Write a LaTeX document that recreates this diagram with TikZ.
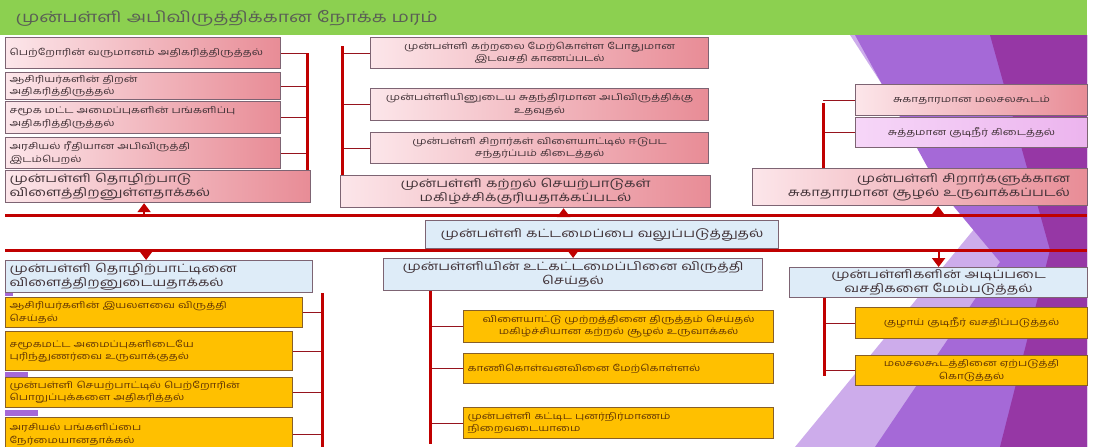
\documentclass[tikz,border=0pt]{standalone}
\usepackage{fontspec}
\newfontfamily\tafont[Script=Tamil,FakeStretch=1.3]{Hind Madurai}
\usetikzlibrary{arrows.meta}
\definecolor{titlegreen}{RGB}{140,208,80}
\definecolor{titleink}{RGB}{90,95,85}
\definecolor{barred}{RGB}{192,0,0}
\definecolor{twigred}{RGB}{150,20,30}
\definecolor{pinkL}{RGB}{252,230,234}
\definecolor{pinkR}{RGB}{232,140,150}
\definecolor{lilacL}{RGB}{246,214,248}
\definecolor{lilacR}{RGB}{236,180,238}
\definecolor{paleblue}{RGB}{222,236,248}
\definecolor{amber}{RGB}{255,192,0}
\definecolor{edgegray}{RGB}{125,100,115}
\definecolor{edgebrown}{RGB}{135,95,40}
\definecolor{inkgray}{RGB}{65,50,55}
\definecolor{inkbrown}{RGB}{100,55,5}
\definecolor{purpA}{RGB}{205,172,235}
\definecolor{purpB}{RGB}{165,105,215}
\definecolor{purpC}{RGB}{150,55,165}
\def\lightfacet{(850,35) -- (1087,35) -- (1087,447) -- (795,447) -- (975,228) -- cycle}
\def\midfacet{(855,35) -- (1087,35) -- (1087,447) -- (875,447) -- (1000,262) -- (940,190) -- cycle}
\def\darkfacet{(990,35) -- (1087,35) -- (1087,447) -- (1000,447) -- (1050,250) -- cycle}
\tikzset{
  card/.style={draw=edgegray, line width=1.2pt, anchor=north west, inner xsep=4pt, inner ysep=0pt,
    font=\tafont\fontsize{9}{12.5}\selectfont, text=inkgray},
  headfont/.style={font=\tafont\fontsize{11.5}{14}\selectfont},
  pinkcard/.style={card, left color=pinkL, right color=pinkR},
  lilaccard/.style={card, left color=lilacL, right color=lilacR},
  bluecard/.style={card, fill=paleblue, headfont},
  ambercard/.style={card, draw=edgebrown, fill=amber, text=inkbrown},
  trunk/.style={draw=barred, line width=3pt},
  twig/.style={draw=twigred, line width=1.2pt},
  tip/.style={draw=barred, line width=2pt, -{Triangle[width=13pt,length=9pt]}, barred}
}
\begin{document}
\begin{tikzpicture}[x=1pt,y=-1pt]
\useasboundingbox (0,0) rectangle (1093,447);

%slide background
\fill[titlegreen] (0,0) rectangle (1087,35);
\fill[purpA] \lightfacet;
\fill[purpB] \midfacet;
\fill[purpC] \darkfacet;
\fill[purpB] (5,292) rectangle (13,296);
\fill[purpB] (5,372) rectangle (28,377);
\fill[purpB] (5,410) rectangle (38,416);

\node[anchor=west, font=\tafont\fontsize{15}{17}\selectfont, text=titleink] (title) at (12,18)
  {முன்பள்ளி அபிவிருத்திக்கான நோக்க மரம்};

%upper branches
\node[pinkcard, text width=267pt, minimum height=31pt, align=left] (lt1) at (5,37)
  {பெற்றோரின் வருமானம் அதிகரித்திருத்தல்};
\node[pinkcard, text width=267pt, minimum height=27pt, align=left] (lt2) at (5,72)
  {ஆசிரியர்களின் திறன்\\அதிகரித்திருத்தல்};
\node[pinkcard, text width=267pt, minimum height=32pt, align=left] (lt3) at (5,101)
  {சமூக மட்ட அமைப்புகளின் பங்களிப்பு\\அதிகரித்திருத்தல்};
\node[pinkcard, text width=267pt, minimum height=31pt, align=left] (lt4) at (5,137)
  {அரசியல் ரீதியான அபிவிருத்தி\\இடம்பெறல்};
\node[pinkcard, headfont, text width=297pt, minimum height=32pt, align=left] (lt5) at (5,170)
  {முன்பள்ளி தொழிற்பாடு\\விளைத்திறனுள்ளதாக்கல்};

\node[pinkcard, text width=330pt, minimum height=31pt, align=center] (mt1) at (370,37)
  {முன்பள்ளி கற்றலை மேற்கொள்ள போதுமான\\இடவசதி காணப்படல்};
\node[pinkcard, text width=330pt, minimum height=32pt, align=center] (mt2) at (370,88)
  {முன்பள்ளியினுடைய சுதந்திரமான அபிவிருத்திக்கு\\உதவுதல்};
\node[pinkcard, text width=330pt, minimum height=31pt, align=center] (mt3) at (370,132)
  {முன்பள்ளி சிறார்கள் விளையாட்டில் ஈடுபட\\சந்தர்ப்பம் கிடைத்தல்};
\node[pinkcard, headfont, text width=362pt, minimum height=32pt, align=center] (mt4) at (340,175)
  {முன்பள்ளி கற்றல் செயற்பாடுகள்\\மகிழ்ச்சிக்குரியதாக்கப்படல்};

\node[pinkcard, text width=224pt, minimum height=31pt, align=center] (rt1) at (855,84)
  {சுகாதாரமான மலசலகூடம்};
\node[lilaccard, text width=224pt, minimum height=30pt, align=center] (rt2) at (855,117)
  {சுத்தமான குடிநீர் கிடைத்தல்};
\node[pinkcard, headfont, text width=300pt, minimum width=335pt, minimum height=37pt, align=right] (rt3) at (752,168)
  {முன்பள்ளி சிறார்களுக்கான\\சுகாதாரமான சூழல் உருவாக்கப்படல்};

%core
\coordinate (upL) at (5,215);
\coordinate (upR) at (1087,215);
\coordinate (dnL) at (5,250);
\coordinate (dnR) at (1087,250);
\draw[trunk] (upL) -- (upR);
\draw[trunk] (dnL) -- (dnR);
\node[bluecard, text width=345pt, minimum height=28pt, align=center] (cb) at (425,220)
  {முன்பள்ளி கட்டமைப்பை வலுப்படுத்துதல்};

%lower branches
\node[bluecard, text width=299pt, minimum height=32pt, align=left] (lb0) at (5,260)
  {முன்பள்ளி தொழிற்பாட்டினை\\விளைத்திறனுடையதாக்கல்};
\node[ambercard, text width=289pt, minimum height=30pt, align=left] (lb1) at (5,297)
  {ஆசிரியர்களின் இயலளவை விருத்தி\\செய்தல்};
\node[ambercard, text width=279pt, minimum height=39pt, align=left] (lb2) at (5,331)
  {சமூகமட்ட அமைப்புகளிடையே\\புரிந்துணர்வை உருவாக்குதல்};
\node[ambercard, text width=279pt, minimum height=30pt, align=left] (lb3) at (5,377)
  {முன்பள்ளி செயற்பாட்டில் பெற்றோரின்\\பொறுப்புக்களை அதிகரித்தல்};
\node[ambercard, text width=279pt, minimum height=34pt, align=left] (lb4) at (5,417)
  {அரசியல் பங்களிப்பை\\நேர்மையானதாக்கல்};

\node[bluecard, text width=371pt, minimum height=32pt, align=center] (mb0) at (383,258)
  {முன்பள்ளியின் உட்கட்டமைப்பினை விருத்தி\\செய்தல்};
\node[ambercard, text width=302pt, minimum height=32pt, align=center] (mb1) at (463,310)
  {விளையாட்டு முற்றத்தினை திருத்தம் செய்தல்\\மகிழ்ச்சியான கற்றல் சூழல் உருவாக்கல்};
\node[ambercard, text width=302pt, minimum height=30pt, align=left] (mb2) at (463,353)
  {காணிகொள்வனவினை மேற்கொள்ளல்};
\node[ambercard, text width=302pt, minimum height=31pt, align=left] (mb3) at (463,407)
  {முன்பள்ளி கட்டிட புனர்நிர்மாணம்\\நிறைவடையாமை};

\node[bluecard, text width=290pt, minimum height=30pt, align=center] (rb0) at (789,267)
  {முன்பள்ளிகளின் அடிப்படை\\வசதிகளை மேம்படுத்தல்};
\node[ambercard, text width=224pt, minimum height=31pt, align=center] (rb1) at (855,307)
  {குழாய் குடிநீர் வசதிப்படுத்தல்};
\node[ambercard, text width=224pt, minimum height=30pt, align=center] (rb2) at (855,355)
  {மலசலகூடத்தினை ஏற்படுத்தி\\கொடுத்தல்};

%drawing the bars and twigs
\coordinate (ltbar) at (307,0);
\coordinate (mtbar) at (342,0);
\coordinate (rtbar) at (823,0);
\coordinate (lbbar) at (322,0);
\coordinate (mbbar) at (430,0);
\coordinate (rbbar) at (824,0);

\foreach \n in {lt1,lt2,lt3,lt4} \draw[twig] (\n.east) -- (\n.east -| ltbar);
\draw[trunk] (lt1.east -| ltbar) -- (lt5.north -| ltbar);
\foreach \n in {mt1,mt2,mt3} \draw[twig] (\n.west) -- (\n.west -| mtbar);
\draw[trunk] ([yshift=7pt]mt1.west -| mtbar) -- (mt4.north -| mtbar);
\foreach \n in {rt1,rt2} \draw[twig] (\n.west) -- (\n.west -| rtbar);
\draw[trunk] ([yshift=-3pt]rt1.west -| rtbar) -- (rt3.north -| rtbar);

\foreach \n in {lb1,lb2,lb3,lb4} \draw[twig] (\n.east) -- (\n.east -| lbbar);
\draw[trunk] (lb0.south -| lbbar) -- (lb4.south -| lbbar);
\foreach \n in {mb1,mb2,mb3} \draw[twig] (\n.west) -- (\n.west -| mbbar);
\draw[trunk] (mb0.south -| mbbar) -- ([yshift=-5pt]mb3.south -| mbbar);
\foreach \n in {rb1,rb2} \draw[twig] (\n.west) -- (\n.west -| rbbar);
\draw[trunk] (rb0.south -| rbbar) -- ([yshift=-5pt]rb2.west -| rbbar);

%arrows to and from the core
\draw[tip] ([xshift=-14pt]lt5.south |- upL) -- ([xshift=-14pt]lt5.south);
\draw[tip] ([xshift=38pt]mt4.south |- upL) -- ([xshift=38pt]mt4.south);
\draw[tip] ([xshift=18pt]rt3.south |- upL) -- ([xshift=18pt]rt3.south);
\draw[tip] ([xshift=-13pt]lb0.north |- dnL) -- ([xshift=-13pt]lb0.north);
\draw[tip] (mb0.north |- cb.south) -- (mb0.north);
\draw[tip] (rb0.north |- dnL) -- (rb0.north);
\end{tikzpicture}
\end{document}
